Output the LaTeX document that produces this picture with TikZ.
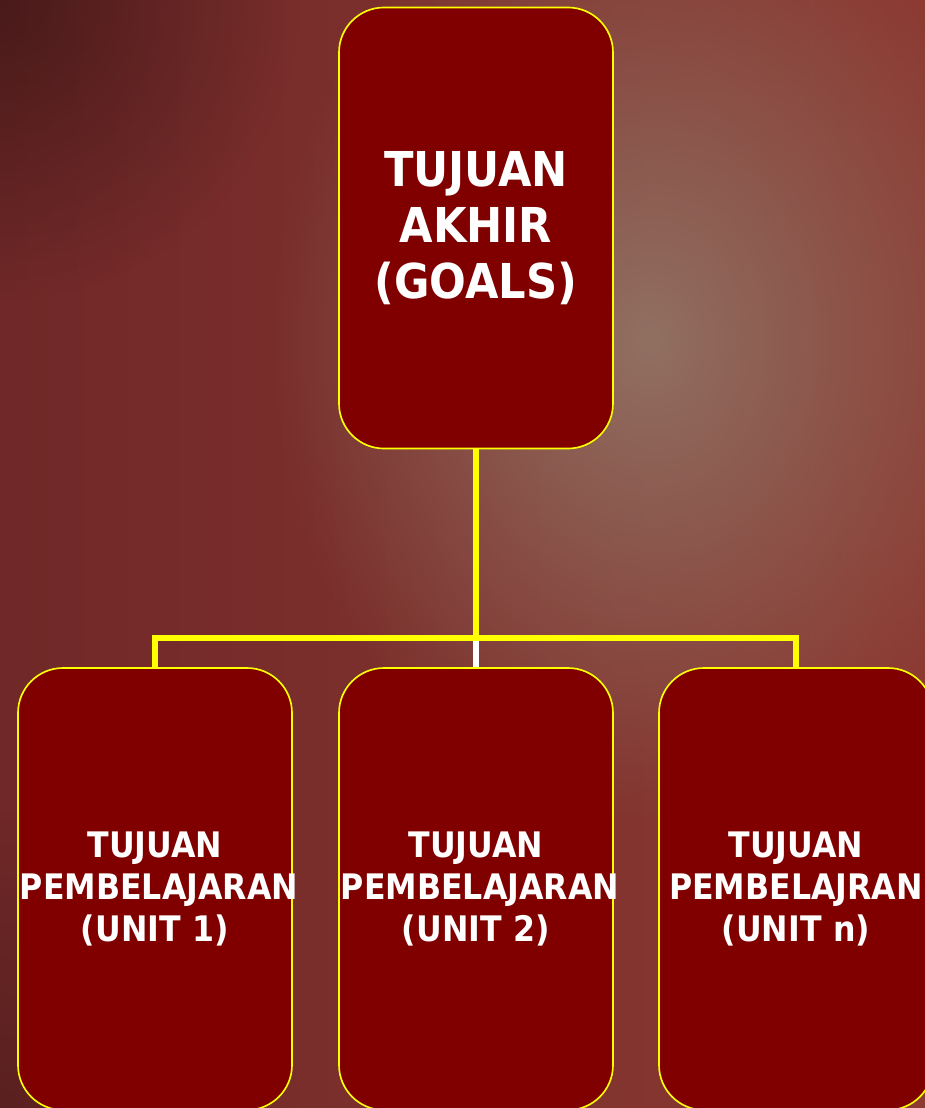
\documentclass[tikz,border=0pt]{standalone}
\usepackage{fontspec}
\setmainfont{DejaVu Sans Condensed}
\usepackage{tikz}
\usetikzlibrary{fadings}
\definecolor{boxred}{RGB}{128,0,0}
\definecolor{bgdark}{RGB}{112,40,40}
\definecolor{bgred}{RGB}{140,58,50}
\definecolor{bglight}{RGB}{145,112,98}
\definecolor{lineyellow}{RGB}{255,255,0}
\tikzfading[name=glow,inner color=transparent!0,outer color=transparent!100]

\begin{document}
\begin{tikzpicture}[x=0.03cm,y=-0.03cm]
		\tikzstyle{GoalBox}=[draw=lineyellow,line width=1.4pt,fill=boxred,rounded corners=1.35cm,
			inner sep=0pt,minimum width=8.22cm,text width=8.1cm,align=center,text=white]
		\tikzstyle{Link}=[draw=lineyellow,line width=4.3pt]
		% background
		\useasboundingbox (0,0) rectangle (925,1108);
		\shade[left color=bgdark,right color=bgred] (0,0) rectangle (925,1108);
		\fill[bglight,path fading=glow] (650,340) ellipse (380 and 480);
		\fill[black,opacity=0.35,path fading=glow] (0,0) ellipse (300 and 300);
		\fill[black,opacity=0.2,path fading=glow] (0,1108) ellipse (300 and 300);
		% boxes
		\node[GoalBox,minimum height=13.23cm,font=\fontsize{41}{48}\selectfont\bfseries] (goals) at (476,228)
			{TUJUAN\\ AKHIR\\ (GOALS)};
		\node[GoalBox,minimum height=13.26cm,font=\fontsize{30}{35.5}\selectfont\bfseries] (unit1) at (155,889)
			{TUJUAN\\ PEMBELAJARAN\\ (UNIT 1)};
		\node[GoalBox,minimum height=13.26cm,font=\fontsize{30}{35.5}\selectfont\bfseries] (unit2) at (476,889)
			{TUJUAN\\ PEMBELAJARAN\\ (UNIT 2)};
		\node[GoalBox,minimum height=13.26cm,font=\fontsize{30}{35.5}\selectfont\bfseries] (unitn) at (796,889)
			{TUJUAN\\ PEMBELAJRAN\\ (UNIT n)};
		% connectors
		\coordinate (bus) at (476,638);
		\draw[Link] (goals.south) -- (bus);
		\draw[Link] (unit1.north) |- (bus) -| (unitn.north);
		\draw[white,line width=4.3pt] ([yshift=-2.2pt]bus) -- (unit2.north);
\end{tikzpicture}
\end{document}
